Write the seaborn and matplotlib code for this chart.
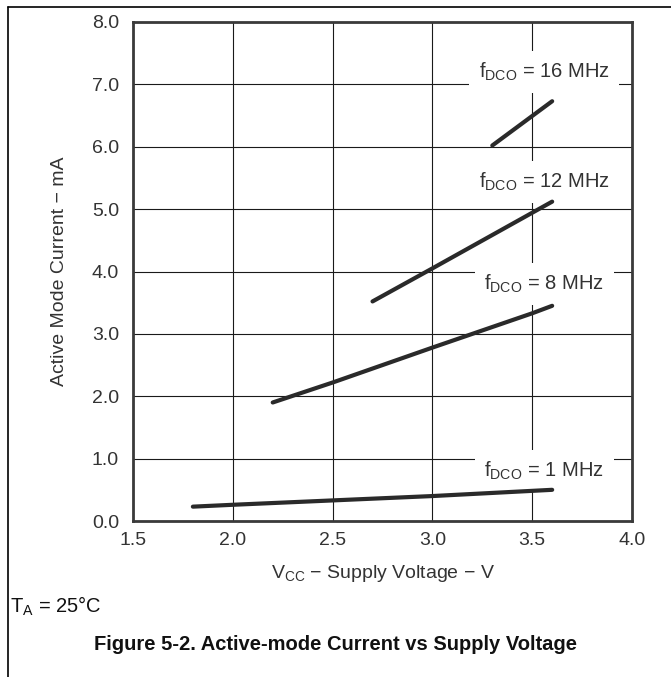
import matplotlib
matplotlib.use("Agg")
import matplotlib.pyplot as plt
import seaborn as sns
import pandas as pd
from matplotlib.lines import Line2D

# ---- data ----
v_1mhz = [1.8, 2.0, 2.5, 3.0, 3.6]
i_1mhz = [0.23, 0.26, 0.33, 0.40, 0.50]
v_8mhz = [2.2, 2.5, 3.0, 3.5, 3.6]
i_8mhz = [1.90, 2.22, 2.78, 3.33, 3.45]
v_12mhz = [2.7, 3.0, 3.6]
i_12mhz = [3.52, 4.05, 5.12]
v_16mhz = [3.3, 3.6]
i_16mhz = [6.02, 6.73]

series_names = ["1 MHz", "8 MHz", "12 MHz", "16 MHz"]
label_texts = [r"f$_{\mathrm{DCO}}$ = 1 MHz", r"f$_{\mathrm{DCO}}$ = 8 MHz",
               r"f$_{\mathrm{DCO}}$ = 12 MHz", r"f$_{\mathrm{DCO}}$ = 16 MHz"]
label_x = [3.56, 3.56, 3.56, 3.56]
label_y = [0.80, 3.80, 5.43, 7.20]

x_ticks = [1.5, 2.0, 2.5, 3.0, 3.5, 4.0]
y_ticks = [0.0, 1.0, 2.0, 3.0, 4.0, 5.0, 6.0, 7.0, 8.0]

frames = []
for name, v, i in zip(series_names, [v_1mhz, v_8mhz, v_12mhz, v_16mhz],
                      [i_1mhz, i_8mhz, i_12mhz, i_16mhz]):
    frames.append(pd.DataFrame({"V": v, "I": i, "f": name}))
df = pd.concat(frames, ignore_index=True)

sns.set_theme(style="white")
plt.rcParams["font.family"] = ["Liberation Sans", "DejaVu Sans"]
plt.rcParams["mathtext.fontset"] = "custom"
plt.rcParams["mathtext.rm"] = "Liberation Sans"
plt.rcParams["mathtext.it"] = "Liberation Sans:italic"
plt.rcParams["mathtext.bf"] = "Liberation Sans:bold"

FS = 14

fig = plt.figure(figsize=(6.71, 6.77), dpi=100)
ax = fig.add_axes([133 / 671, 1 - 521 / 677, (632 - 133) / 671, (521 - 22) / 677])

line_col = "#2a2a2a"
sns.lineplot(data=df, x="V", y="I", hue="f", palette=[line_col] * 4,
             linewidth=3.0, legend=False, ax=ax, sort=False,
             solid_capstyle="round", zorder=5)

ax.set_xlim(1.5, 4.0)
ax.set_ylim(0, 8)
ax.set_xticks(x_ticks)
ax.set_yticks(y_ticks)
ax.set_xticklabels([f"{t:.1f}" for t in x_ticks])
ax.set_yticklabels([f"{t:.1f}" for t in y_ticks])
ax.tick_params(axis="both", labelsize=FS, colors="#333333", length=0)
ax.tick_params(axis="y", pad=10)
ax.tick_params(axis="x", pad=8)
for lab in ax.get_xticklabels() + ax.get_yticklabels():
    lab.set_color("#333333")

ax.grid(True, color="#1a1a1a", linewidth=0.8)
ax.set_axisbelow(True)
for sp in ax.spines.values():
    sp.set_visible(True)
    sp.set_color("#3a3a3a")
    sp.set_linewidth(2.0)
    sp.set_zorder(6)

ax.set_xlabel(r"V$_{\mathrm{CC}}$ − Supply Voltage − V", fontsize=FS,
              color="#333333", labelpad=10)
ax.set_ylabel("Active Mode Current − mA", fontsize=FS, color="#333333",
              labelpad=17)

for t, x, y in zip(label_texts, label_x, label_y):
    ax.text(x, y, t, ha="center", va="center", fontsize=FS + 0.5, color="#333333",
            zorder=4, bbox=dict(facecolor="white", edgecolor="none", pad=7))

fig.text(10 / 671, 1 - 606 / 677, r"T$_{\mathrm{A}}$ = 25°C", fontsize=FS + 0.5,
         ha="left", va="center", color="#111111")
fig.text(335 / 671, 1 - 645 / 677,
         "Figure 5-2. Active-mode Current vs Supply Voltage",
         fontsize=14.5, fontweight="bold", ha="center", va="center",
         color="#111111")

# figure frame (top and left edges)
fig.add_artist(Line2D([8 / 671, 1.0], [1 - 7 / 677, 1 - 7 / 677],
                      color="black", linewidth=1.2, transform=fig.transFigure))
fig.add_artist(Line2D([8 / 671, 8 / 671], [0.0, 1 - 7 / 677],
                      color="black", linewidth=1.2, transform=fig.transFigure))

fig.savefig("out.png", dpi=100, facecolor="white")
